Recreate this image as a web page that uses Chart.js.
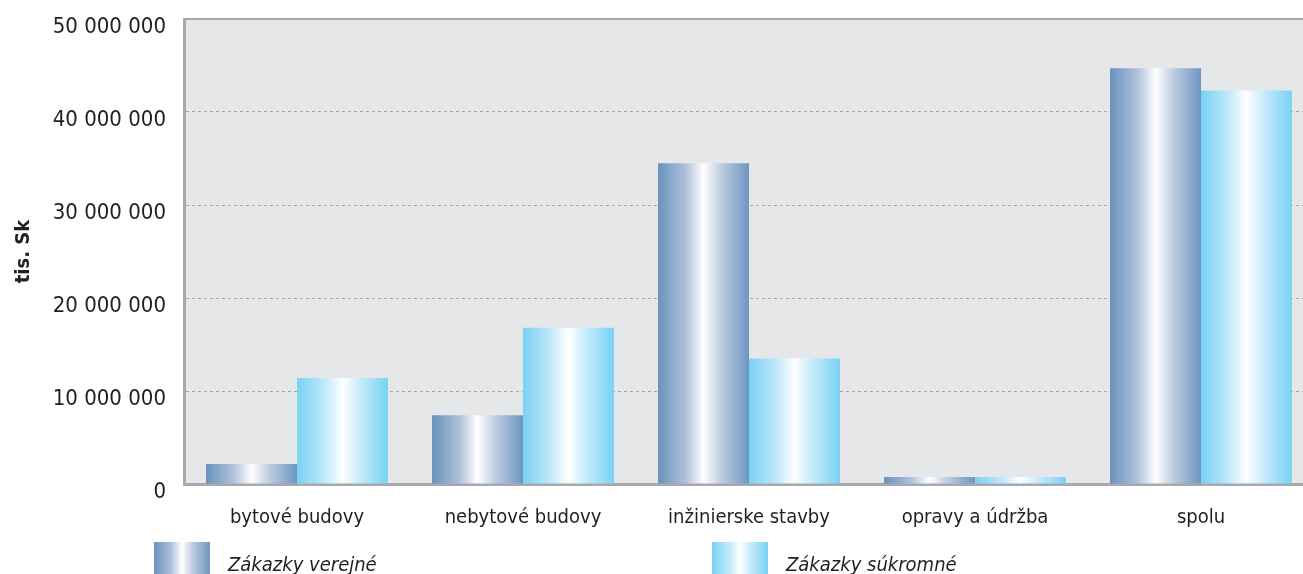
<!DOCTYPE html>
<html>
<head>
<meta charset="utf-8">
<script src="https://cdn.jsdelivr.net/npm/chart.js@4/dist/chart.umd.min.js"></script>
<style>
  html, body { margin: 0; padding: 0; background: #fff; overflow: hidden; }
  #wrap { position: relative; width: 1303px; height: 574px; overflow: hidden; }
  #chart { position: absolute; left: 0; top: 0; }
  .leg { position: absolute; top: 542px; height: 40px; display: flex; align-items: flex-start;
         font-family: 'Liberation Sans Narrow', 'DejaVu Sans Condensed', sans-serif;
         font-style: italic; font-size: 20px; color: #231f20; }
  .leg .box { width: 56px; height: 36px; margin-right: 18px; }
  .leg span { margin-top: 10px; }
</style>
</head>
<body>
<div id="wrap">
  <canvas id="chart" width="1320" height="574" style="width:1320px;height:574px"></canvas>
  <div class="leg" style="left:154px"><div class="box" id="box0"></div><span>Zákazky verejné</span></div>
  <div class="leg" style="left:712px"><div class="box" id="box1"></div><span>Zákazky súkromné</span></div>
</div>
<script>
// ===== DATA =====
const categories = ["bytové budovy", "nebytové budovy", "inžinierske stavby", "opravy a údržba", "spolu"];
const seriesNames = ["Zákazky verejné", "Zákazky súkromné"];
const verejne = [2150000, 7400000, 34500000, 750000, 44700000];
const sukromne = [11400000, 16800000, 13500000, 750000, 42300000];
const yTicks = [0, 10000000, 20000000, 30000000, 40000000, 50000000];

// ===== STYLE =====
const FONT = "'Liberation Sans Narrow', 'DejaVu Sans Condensed', sans-serif";
const CAT_PCT = 0.805;
const stopsVer = [[0, "#6792bc"], [0.3, "#afc1da"], [0.5, "#ffffff"], [0.7, "#bccbe0"], [1, "#6d96c0"]];
const stopsSuk = [[0, "#7ad2f5"], [0.3, "#bfe8fb"], [0.5, "#ffffff"], [0.7, "#c4eafb"], [1, "#79d2f5"]];

document.getElementById("box0").style.background =
  "linear-gradient(to right," + stopsVer.map(s => s[1] + " " + s[0] * 100 + "%").join(",") + ")";
document.getElementById("box1").style.background =
  "linear-gradient(to right," + stopsSuk.map(s => s[1] + " " + s[0] * 100 + "%").join(",") + ")";

function barGradient(context, stops, side) {
  const chart = context.chart;
  const xs = chart.scales.x;
  if (!xs || !chart.chartArea) return stops[0][1];
  const center = xs.getPixelForValue(context.dataIndex);
  const catW = chart.chartArea.width / categories.length;
  const barW = catW * CAT_PCT / 2;
  const x0 = side === 0 ? center - barW : center;
  const g = chart.ctx.createLinearGradient(x0, 0, x0 + barW, 0);
  stops.forEach(s => g.addColorStop(s[0], s[1]));
  return g;
}

const plotBg = {
  id: "plotBg",
  beforeDraw(chart) {
    const { ctx, chartArea: a } = chart;
    ctx.save();
    ctx.fillStyle = "#e6e7e9";
    ctx.fillRect(a.left, a.top, a.right - a.left, a.bottom - a.top);
    ctx.restore();
  },
  afterDraw(chart) {
    const { ctx, chartArea: a } = chart;
    ctx.save();
    ctx.strokeStyle = "#a7a9ac";
    ctx.lineWidth = 2;
    ctx.beginPath();
    ctx.moveTo(a.left - 1, a.top);
    ctx.lineTo(a.right, a.top);
    ctx.lineTo(a.right, a.bottom);
    ctx.stroke();
    ctx.restore();
  }
};

const ctx = document.getElementById("chart").getContext("2d");
new Chart(ctx, {
  type: "bar",
  data: {
    labels: categories,
    datasets: [
      { label: seriesNames[0], data: verejne, backgroundColor: c => barGradient(c, stopsVer, 0),
        categoryPercentage: CAT_PCT, barPercentage: 1, borderWidth: 0 },
      { label: seriesNames[1], data: sukromne, backgroundColor: c => barGradient(c, stopsSuk, 1),
        categoryPercentage: CAT_PCT, barPercentage: 1, borderWidth: 0 }
    ]
  },
  options: {
    responsive: false,
    animation: false,
    layout: { padding: { left: 0, right: 6, top: 19, bottom: 0 } },
    plugins: { legend: { display: false }, tooltip: { enabled: false } },
    scales: {
      x: {
        grid: { display: false, drawTicks: false },
        border: { color: "#a7a9ac", width: 3 },
        ticks: { color: "#231f20", font: { family: FONT, size: 20 }, padding: 22, maxRotation: 0 },
        afterFit: s => { s.height = 574 - 484; s.paddingLeft = 0; s.paddingRight = 0; }
      },
      y: {
        min: 0, max: 50000000,
        afterBuildTicks: s => { s.ticks = yTicks.map(v => ({ value: v })); },
        grid: { color: "#a8a8a8", lineWidth: 1, drawTicks: false },
        border: { color: "#a7a9ac", width: 3, dash: [3, 3] },
        ticks: {
          color: "#231f20", font: { family: FONT, size: 22 }, padding: 18, labelOffset: 8,
          callback: v => String(v).replace(/\B(?=(\d{3})+(?!\d))/g, " ")
        },
        title: { display: true, text: "tis. Sk", color: "#231f20",
                 font: { family: FONT, size: 20, weight: "bold" }, padding: { top: 12, bottom: 0 } },
        afterFit: s => { s.width = 184; s.paddingTop = 0; s.paddingBottom = 0; }
      }
    }
  },
  plugins: [plotBg]
});
</script>
</body>
</html>
